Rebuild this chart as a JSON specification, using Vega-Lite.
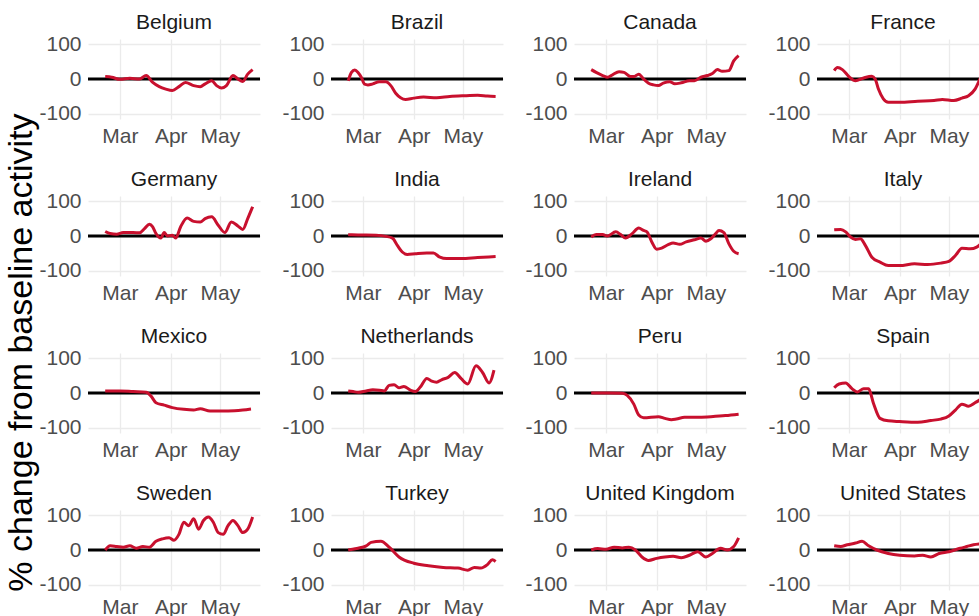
{
  "$schema": "https://vega.github.io/schema/vega-lite/v6.json",
  "background": "white",
  "padding": {"left": 4, "top": 12, "right": 0, "bottom": 0},
  "title": {"text": "% change from baseline activity", "orient": "left", "anchor": "middle", "fontSize": 34, "fontWeight": "normal", "font": "Liberation Sans", "color": "#000000", "offset": 0, "dx": -38},
  "data": {"values": [
    {"country":"Belgium","date":"2020-02-21","value":7},{"country":"Belgium","date":"2020-02-25","value":5},{"country":"Belgium","date":"2020-03-01","value":-1},{"country":"Belgium","date":"2020-03-07","value":2},{"country":"Belgium","date":"2020-03-13","value":0},{"country":"Belgium","date":"2020-03-17","value":10},{"country":"Belgium","date":"2020-03-21","value":-10},{"country":"Belgium","date":"2020-03-25","value":-22},{"country":"Belgium","date":"2020-03-29","value":-29},{"country":"Belgium","date":"2020-04-02","value":-33},{"country":"Belgium","date":"2020-04-06","value":-22},{"country":"Belgium","date":"2020-04-10","value":-10},{"country":"Belgium","date":"2020-04-15","value":-19},{"country":"Belgium","date":"2020-04-19","value":-22},{"country":"Belgium","date":"2020-04-22","value":-14},{"country":"Belgium","date":"2020-04-26","value":-5},{"country":"Belgium","date":"2020-04-29","value":-19},{"country":"Belgium","date":"2020-05-02","value":-26},{"country":"Belgium","date":"2020-05-05","value":-19},{"country":"Belgium","date":"2020-05-09","value":10},{"country":"Belgium","date":"2020-05-12","value":0},{"country":"Belgium","date":"2020-05-15","value":-7},{"country":"Belgium","date":"2020-05-18","value":14},{"country":"Belgium","date":"2020-05-21","value":27},
    {"country":"Brazil","date":"2020-02-21","value":-5},{"country":"Brazil","date":"2020-02-23","value":19},{"country":"Brazil","date":"2020-02-25","value":26},{"country":"Brazil","date":"2020-02-27","value":19},{"country":"Brazil","date":"2020-02-29","value":5},{"country":"Brazil","date":"2020-03-02","value":-15},{"country":"Brazil","date":"2020-03-04","value":-17},{"country":"Brazil","date":"2020-03-07","value":-14},{"country":"Brazil","date":"2020-03-11","value":-8},{"country":"Brazil","date":"2020-03-15","value":-8},{"country":"Brazil","date":"2020-03-18","value":-19},{"country":"Brazil","date":"2020-03-21","value":-41},{"country":"Brazil","date":"2020-03-24","value":-54},{"country":"Brazil","date":"2020-03-27","value":-59},{"country":"Brazil","date":"2020-04-01","value":-55},{"country":"Brazil","date":"2020-04-07","value":-52},{"country":"Brazil","date":"2020-04-15","value":-54},{"country":"Brazil","date":"2020-04-23","value":-50},{"country":"Brazil","date":"2020-05-02","value":-48},{"country":"Brazil","date":"2020-05-10","value":-47},{"country":"Brazil","date":"2020-05-16","value":-49},{"country":"Brazil","date":"2020-05-21","value":-50},
    {"country":"Canada","date":"2020-02-21","value":27},{"country":"Canada","date":"2020-02-24","value":19},{"country":"Canada","date":"2020-02-28","value":10},{"country":"Canada","date":"2020-03-02","value":5},{"country":"Canada","date":"2020-03-05","value":12},{"country":"Canada","date":"2020-03-09","value":21},{"country":"Canada","date":"2020-03-12","value":19},{"country":"Canada","date":"2020-03-16","value":7},{"country":"Canada","date":"2020-03-18","value":7},{"country":"Canada","date":"2020-03-21","value":14},{"country":"Canada","date":"2020-03-24","value":0},{"country":"Canada","date":"2020-03-27","value":-12},{"country":"Canada","date":"2020-03-30","value":-17},{"country":"Canada","date":"2020-04-02","value":-19},{"country":"Canada","date":"2020-04-05","value":-12},{"country":"Canada","date":"2020-04-09","value":-8},{"country":"Canada","date":"2020-04-12","value":-14},{"country":"Canada","date":"2020-04-16","value":-11},{"country":"Canada","date":"2020-04-21","value":-5},{"country":"Canada","date":"2020-04-24","value":-5},{"country":"Canada","date":"2020-04-28","value":5},{"country":"Canada","date":"2020-05-02","value":10},{"country":"Canada","date":"2020-05-05","value":16},{"country":"Canada","date":"2020-05-08","value":27},{"country":"Canada","date":"2020-05-11","value":22},{"country":"Canada","date":"2020-05-15","value":24},{"country":"Canada","date":"2020-05-18","value":52},{"country":"Canada","date":"2020-05-21","value":67},
    {"country":"France","date":"2020-02-21","value":24},{"country":"France","date":"2020-02-23","value":33},{"country":"France","date":"2020-02-26","value":27},{"country":"France","date":"2020-03-01","value":7},{"country":"France","date":"2020-03-05","value":-5},{"country":"France","date":"2020-03-10","value":3},{"country":"France","date":"2020-03-15","value":8},{"country":"France","date":"2020-03-17","value":0},{"country":"France","date":"2020-03-19","value":-29},{"country":"France","date":"2020-03-22","value":-57},{"country":"France","date":"2020-03-25","value":-67},{"country":"France","date":"2020-04-01","value":-67},{"country":"France","date":"2020-04-12","value":-64},{"country":"France","date":"2020-04-22","value":-62},{"country":"France","date":"2020-04-27","value":-59},{"country":"France","date":"2020-05-04","value":-62},{"country":"France","date":"2020-05-09","value":-55},{"country":"France","date":"2020-05-13","value":-48},{"country":"France","date":"2020-05-17","value":-29},{"country":"France","date":"2020-05-20","value":0},{"country":"France","date":"2020-05-21","value":10},
    {"country":"Germany","date":"2020-02-21","value":13},{"country":"Germany","date":"2020-02-24","value":7},{"country":"Germany","date":"2020-02-28","value":5},{"country":"Germany","date":"2020-03-03","value":10},{"country":"Germany","date":"2020-03-09","value":10},{"country":"Germany","date":"2020-03-13","value":9},{"country":"Germany","date":"2020-03-16","value":21},{"country":"Germany","date":"2020-03-19","value":34},{"country":"Germany","date":"2020-03-21","value":26},{"country":"Germany","date":"2020-03-23","value":7},{"country":"Germany","date":"2020-03-26","value":-6},{"country":"Germany","date":"2020-03-28","value":10},{"country":"Germany","date":"2020-03-30","value":0},{"country":"Germany","date":"2020-04-02","value":2},{"country":"Germany","date":"2020-04-04","value":-6},{"country":"Germany","date":"2020-04-07","value":26},{"country":"Germany","date":"2020-04-11","value":52},{"country":"Germany","date":"2020-04-15","value":42},{"country":"Germany","date":"2020-04-19","value":40},{"country":"Germany","date":"2020-04-22","value":50},{"country":"Germany","date":"2020-04-26","value":55},{"country":"Germany","date":"2020-04-30","value":31},{"country":"Germany","date":"2020-05-04","value":10},{"country":"Germany","date":"2020-05-08","value":40},{"country":"Germany","date":"2020-05-12","value":29},{"country":"Germany","date":"2020-05-15","value":19},{"country":"Germany","date":"2020-05-18","value":50},{"country":"Germany","date":"2020-05-21","value":84},
    {"country":"India","date":"2020-02-21","value":4},{"country":"India","date":"2020-02-27","value":3},{"country":"India","date":"2020-03-09","value":2},{"country":"India","date":"2020-03-15","value":-1},{"country":"India","date":"2020-03-19","value":-6},{"country":"India","date":"2020-03-22","value":-27},{"country":"India","date":"2020-03-25","value":-46},{"country":"India","date":"2020-03-28","value":-53},{"country":"India","date":"2020-04-02","value":-51},{"country":"India","date":"2020-04-09","value":-49},{"country":"India","date":"2020-04-13","value":-49},{"country":"India","date":"2020-04-17","value":-61},{"country":"India","date":"2020-04-21","value":-65},{"country":"India","date":"2020-04-30","value":-65},{"country":"India","date":"2020-05-10","value":-62},{"country":"India","date":"2020-05-21","value":-59},
    {"country":"Ireland","date":"2020-02-21","value":-3},{"country":"Ireland","date":"2020-02-24","value":4},{"country":"Ireland","date":"2020-02-28","value":4},{"country":"Ireland","date":"2020-03-02","value":0},{"country":"Ireland","date":"2020-03-07","value":12},{"country":"Ireland","date":"2020-03-10","value":4},{"country":"Ireland","date":"2020-03-13","value":-6},{"country":"Ireland","date":"2020-03-17","value":7},{"country":"Ireland","date":"2020-03-21","value":23},{"country":"Ireland","date":"2020-03-24","value":16},{"country":"Ireland","date":"2020-03-26","value":12},{"country":"Ireland","date":"2020-03-29","value":-17},{"country":"Ireland","date":"2020-04-01","value":-38},{"country":"Ireland","date":"2020-04-04","value":-35},{"country":"Ireland","date":"2020-04-08","value":-25},{"country":"Ireland","date":"2020-04-11","value":-20},{"country":"Ireland","date":"2020-04-15","value":-24},{"country":"Ireland","date":"2020-04-19","value":-17},{"country":"Ireland","date":"2020-04-24","value":-11},{"country":"Ireland","date":"2020-04-28","value":-6},{"country":"Ireland","date":"2020-05-01","value":-15},{"country":"Ireland","date":"2020-05-04","value":-8},{"country":"Ireland","date":"2020-05-07","value":7},{"country":"Ireland","date":"2020-05-09","value":16},{"country":"Ireland","date":"2020-05-12","value":10},{"country":"Ireland","date":"2020-05-15","value":-22},{"country":"Ireland","date":"2020-05-18","value":-44},{"country":"Ireland","date":"2020-05-21","value":-51},
    {"country":"Italy","date":"2020-02-21","value":18},{"country":"Italy","date":"2020-02-25","value":19},{"country":"Italy","date":"2020-02-28","value":12},{"country":"Italy","date":"2020-03-02","value":-3},{"country":"Italy","date":"2020-03-05","value":-10},{"country":"Italy","date":"2020-03-08","value":-8},{"country":"Italy","date":"2020-03-11","value":-27},{"country":"Italy","date":"2020-03-15","value":-61},{"country":"Italy","date":"2020-03-20","value":-75},{"country":"Italy","date":"2020-03-25","value":-85},{"country":"Italy","date":"2020-04-01","value":-85},{"country":"Italy","date":"2020-04-10","value":-80},{"country":"Italy","date":"2020-04-18","value":-82},{"country":"Italy","date":"2020-04-26","value":-78},{"country":"Italy","date":"2020-05-01","value":-73},{"country":"Italy","date":"2020-05-05","value":-56},{"country":"Italy","date":"2020-05-09","value":-35},{"country":"Italy","date":"2020-05-14","value":-37},{"country":"Italy","date":"2020-05-18","value":-32},{"country":"Italy","date":"2020-05-20","value":-25},{"country":"Italy","date":"2020-05-21","value":-20},
    {"country":"Mexico","date":"2020-02-21","value":6},{"country":"Mexico","date":"2020-03-01","value":6},{"country":"Mexico","date":"2020-03-09","value":4},{"country":"Mexico","date":"2020-03-17","value":2},{"country":"Mexico","date":"2020-03-20","value":-9},{"country":"Mexico","date":"2020-03-23","value":-28},{"country":"Mexico","date":"2020-03-28","value":-35},{"country":"Mexico","date":"2020-04-02","value":-42},{"country":"Mexico","date":"2020-04-09","value":-47},{"country":"Mexico","date":"2020-04-15","value":-49},{"country":"Mexico","date":"2020-04-19","value":-45},{"country":"Mexico","date":"2020-04-25","value":-52},{"country":"Mexico","date":"2020-05-02","value":-52},{"country":"Mexico","date":"2020-05-10","value":-51},{"country":"Mexico","date":"2020-05-15","value":-49},{"country":"Mexico","date":"2020-05-20","value":-46},
    {"country":"Netherlands","date":"2020-02-21","value":6},{"country":"Netherlands","date":"2020-02-24","value":4},{"country":"Netherlands","date":"2020-02-27","value":2},{"country":"Netherlands","date":"2020-03-03","value":6},{"country":"Netherlands","date":"2020-03-07","value":9},{"country":"Netherlands","date":"2020-03-11","value":8},{"country":"Netherlands","date":"2020-03-14","value":6},{"country":"Netherlands","date":"2020-03-17","value":22},{"country":"Netherlands","date":"2020-03-20","value":24},{"country":"Netherlands","date":"2020-03-23","value":15},{"country":"Netherlands","date":"2020-03-26","value":19},{"country":"Netherlands","date":"2020-03-30","value":8},{"country":"Netherlands","date":"2020-04-02","value":4},{"country":"Netherlands","date":"2020-04-05","value":17},{"country":"Netherlands","date":"2020-04-09","value":42},{"country":"Netherlands","date":"2020-04-12","value":34},{"country":"Netherlands","date":"2020-04-15","value":31},{"country":"Netherlands","date":"2020-04-18","value":38},{"country":"Netherlands","date":"2020-04-22","value":45},{"country":"Netherlands","date":"2020-04-26","value":59},{"country":"Netherlands","date":"2020-04-30","value":41},{"country":"Netherlands","date":"2020-05-04","value":26},{"country":"Netherlands","date":"2020-05-09","value":78},{"country":"Netherlands","date":"2020-05-13","value":59},{"country":"Netherlands","date":"2020-05-17","value":29},{"country":"Netherlands","date":"2020-05-20","value":66},
    {"country":"Peru","date":"2020-02-21","value":0},{"country":"Peru","date":"2020-03-03","value":0},{"country":"Peru","date":"2020-03-11","value":-1},{"country":"Peru","date":"2020-03-14","value":-7},{"country":"Peru","date":"2020-03-18","value":-32},{"country":"Peru","date":"2020-03-21","value":-63},{"country":"Peru","date":"2020-03-24","value":-71},{"country":"Peru","date":"2020-04-02","value":-68},{"country":"Peru","date":"2020-04-06","value":-73},{"country":"Peru","date":"2020-04-10","value":-77},{"country":"Peru","date":"2020-04-13","value":-75},{"country":"Peru","date":"2020-04-18","value":-70},{"country":"Peru","date":"2020-04-26","value":-70},{"country":"Peru","date":"2020-05-04","value":-68},{"country":"Peru","date":"2020-05-13","value":-65},{"country":"Peru","date":"2020-05-21","value":-61},
    {"country":"Spain","date":"2020-02-21","value":15},{"country":"Spain","date":"2020-02-24","value":26},{"country":"Spain","date":"2020-02-28","value":29},{"country":"Spain","date":"2020-03-03","value":12},{"country":"Spain","date":"2020-03-06","value":3},{"country":"Spain","date":"2020-03-10","value":12},{"country":"Spain","date":"2020-03-13","value":12},{"country":"Spain","date":"2020-03-16","value":-30},{"country":"Spain","date":"2020-03-20","value":-73},{"country":"Spain","date":"2020-03-25","value":-80},{"country":"Spain","date":"2020-04-01","value":-82},{"country":"Spain","date":"2020-04-12","value":-84},{"country":"Spain","date":"2020-04-20","value":-79},{"country":"Spain","date":"2020-04-26","value":-75},{"country":"Spain","date":"2020-05-01","value":-66},{"country":"Spain","date":"2020-05-05","value":-49},{"country":"Spain","date":"2020-05-09","value":-32},{"country":"Spain","date":"2020-05-13","value":-38},{"country":"Spain","date":"2020-05-17","value":-28},{"country":"Spain","date":"2020-05-20","value":-19},{"country":"Spain","date":"2020-05-21","value":-15},
    {"country":"Sweden","date":"2020-02-21","value":0},{"country":"Sweden","date":"2020-02-24","value":12},{"country":"Sweden","date":"2020-02-28","value":10},{"country":"Sweden","date":"2020-03-03","value":8},{"country":"Sweden","date":"2020-03-07","value":12},{"country":"Sweden","date":"2020-03-11","value":5},{"country":"Sweden","date":"2020-03-15","value":10},{"country":"Sweden","date":"2020-03-19","value":8},{"country":"Sweden","date":"2020-03-23","value":25},{"country":"Sweden","date":"2020-03-27","value":32},{"country":"Sweden","date":"2020-03-31","value":35},{"country":"Sweden","date":"2020-04-03","value":28},{"country":"Sweden","date":"2020-04-06","value":45},{"country":"Sweden","date":"2020-04-09","value":80},{"country":"Sweden","date":"2020-04-12","value":70},{"country":"Sweden","date":"2020-04-15","value":90},{"country":"Sweden","date":"2020-04-18","value":60},{"country":"Sweden","date":"2020-04-21","value":85},{"country":"Sweden","date":"2020-04-24","value":95},{"country":"Sweden","date":"2020-04-27","value":80},{"country":"Sweden","date":"2020-04-30","value":50},{"country":"Sweden","date":"2020-05-03","value":45},{"country":"Sweden","date":"2020-05-06","value":70},{"country":"Sweden","date":"2020-05-09","value":85},{"country":"Sweden","date":"2020-05-12","value":70},{"country":"Sweden","date":"2020-05-15","value":50},{"country":"Sweden","date":"2020-05-18","value":60},{"country":"Sweden","date":"2020-05-21","value":95},
    {"country":"Turkey","date":"2020-02-21","value":0},{"country":"Turkey","date":"2020-02-27","value":5},{"country":"Turkey","date":"2020-03-03","value":12},{"country":"Turkey","date":"2020-03-06","value":22},{"country":"Turkey","date":"2020-03-12","value":25},{"country":"Turkey","date":"2020-03-17","value":8},{"country":"Turkey","date":"2020-03-23","value":-20},{"country":"Turkey","date":"2020-04-01","value":-38},{"country":"Turkey","date":"2020-04-10","value":-45},{"country":"Turkey","date":"2020-04-19","value":-50},{"country":"Turkey","date":"2020-04-28","value":-52},{"country":"Turkey","date":"2020-05-04","value":-58},{"country":"Turkey","date":"2020-05-08","value":-50},{"country":"Turkey","date":"2020-05-12","value":-52},{"country":"Turkey","date":"2020-05-16","value":-42},{"country":"Turkey","date":"2020-05-19","value":-28},{"country":"Turkey","date":"2020-05-21","value":-33},
    {"country":"United Kingdom","date":"2020-02-21","value":0},{"country":"United Kingdom","date":"2020-02-25","value":4},{"country":"United Kingdom","date":"2020-03-01","value":2},{"country":"United Kingdom","date":"2020-03-06","value":8},{"country":"United Kingdom","date":"2020-03-11","value":6},{"country":"United Kingdom","date":"2020-03-15","value":8},{"country":"United Kingdom","date":"2020-03-19","value":0},{"country":"United Kingdom","date":"2020-03-23","value":-20},{"country":"United Kingdom","date":"2020-03-27","value":-30},{"country":"United Kingdom","date":"2020-04-01","value":-24},{"country":"United Kingdom","date":"2020-04-06","value":-20},{"country":"United Kingdom","date":"2020-04-11","value":-18},{"country":"United Kingdom","date":"2020-04-16","value":-22},{"country":"United Kingdom","date":"2020-04-21","value":-15},{"country":"United Kingdom","date":"2020-04-26","value":-5},{"country":"United Kingdom","date":"2020-05-01","value":-20},{"country":"United Kingdom","date":"2020-05-05","value":-10},{"country":"United Kingdom","date":"2020-05-10","value":5},{"country":"United Kingdom","date":"2020-05-14","value":0},{"country":"United Kingdom","date":"2020-05-18","value":10},{"country":"United Kingdom","date":"2020-05-21","value":35},
    {"country":"United States","date":"2020-02-21","value":12},{"country":"United States","date":"2020-02-25","value":10},{"country":"United States","date":"2020-02-29","value":15},{"country":"United States","date":"2020-03-05","value":20},{"country":"United States","date":"2020-03-09","value":25},{"country":"United States","date":"2020-03-13","value":12},{"country":"United States","date":"2020-03-18","value":0},{"country":"United States","date":"2020-03-25","value":-10},{"country":"United States","date":"2020-04-01","value":-15},{"country":"United States","date":"2020-04-10","value":-17},{"country":"United States","date":"2020-04-15","value":-15},{"country":"United States","date":"2020-04-20","value":-20},{"country":"United States","date":"2020-04-25","value":-10},{"country":"United States","date":"2020-05-01","value":-5},{"country":"United States","date":"2020-05-08","value":5},{"country":"United States","date":"2020-05-12","value":10},{"country":"United States","date":"2020-05-16","value":15},{"country":"United States","date":"2020-05-21","value":18}
  ]},
  "facet": {"field": "country", "type": "nominal", "header": {"title": null, "labelFontSize": 21, "labelFont": "Liberation Sans", "labelColor": "#1a1a1a", "labelPadding": 0}},
  "columns": 4,
  "spacing": {"column": 19, "row": 23},
  "resolve": {"axis": {"x": "independent", "y": "independent"}},
  "spec": {
    "width": 172,
    "height": 80,
    "layer": [
      {
        "transform": [{"aggregate": [{"op": "count", "as": "n"}], "groupby": ["country"]}],
        "mark": {"type": "rule", "color": "#000000", "strokeWidth": 3},
        "encoding": {"y": {"datum": 0, "type": "quantitative", "title": null,
            "scale": {"domain": [-115, 115], "nice": false},
            "axis": {"values": [-100, 0, 100], "labelOverlap": false, "labelPadding": 7, "labelExpr": "replace(datum.label, '\u2212', '-')"}}}
      },
      {
        "mark": {"type": "line", "color": "#c8102e", "strokeWidth": 3, "interpolate": "monotone"},
        "encoding": {
          "x": {"field": "date", "type": "temporal", "title": null,
            "scale": {"type": "utc", "domain": [{"year": 2020, "month": 2, "date": 10, "hours": 12, "utc": true}, {"year": 2020, "month": 5, "date": 25, "hours": 12, "utc": true}]},
            "axis": {"tickCount": {"interval": "month", "step": 1}, "format": "%b", "labelFlush": false, "labelOverlap": false, "labelPadding": 6}},
          "y": {"field": "value", "type": "quantitative", "title": null,
            "scale": {"domain": [-115, 115], "nice": false},
            "axis": {"values": [-100, 0, 100], "labelOverlap": false, "labelPadding": 7, "labelExpr": "replace(datum.label, '\u2212', '-')"}}
        }
      }
    ]
  },
  "config": {
    "font": "Liberation Sans",
    "view": {"stroke": null},
    "axis": {"domain": false, "ticks": false, "grid": true, "gridColor": "#ebebeb", "gridWidth": 1.3, "labelFont": "Liberation Sans", "labelFontSize": 21, "labelColor": "#4d4d4d", "labelOverlap": false},
    "axisY": {"labelOverlap": false}
  }
}
